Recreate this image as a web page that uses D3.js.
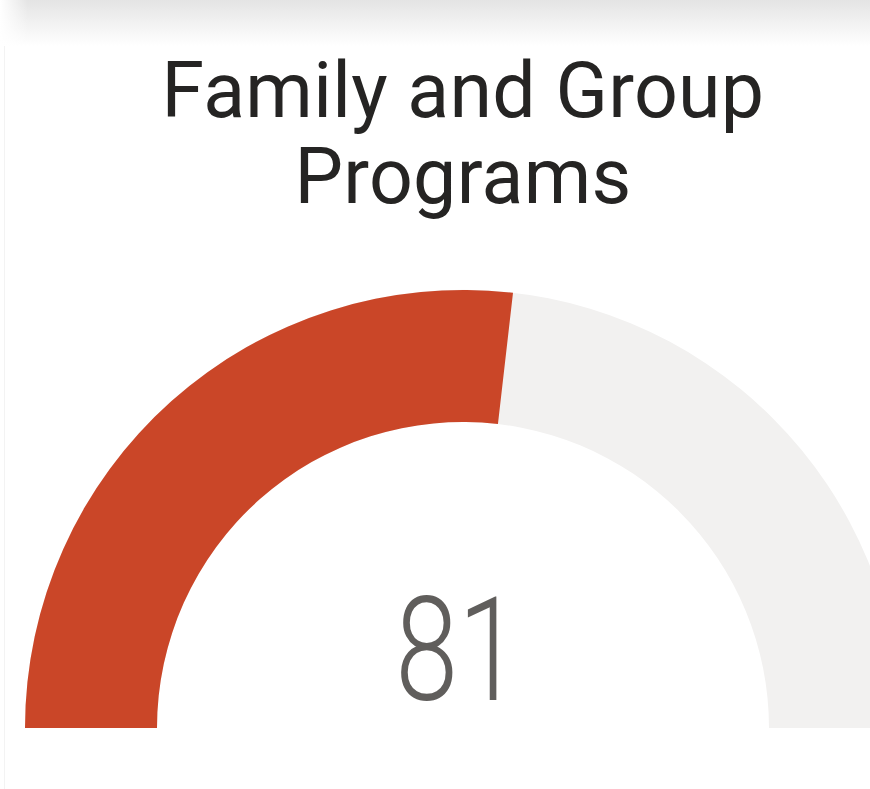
<!DOCTYPE html>
<html>
<head>
<meta charset="utf-8">
<script src="https://cdn.jsdelivr.net/npm/d3@7"></script>
<style>
  html, body { margin: 0; padding: 0; background: #fff; }
  svg { display: block; }
</style>
</head>
<body>
<svg id="chart" width="870" height="789"></svg>
<script>
'use strict';

// gauge data
const titleLines = ['Family and Group', 'Programs'];
const gaugeValue = [81];
const gaugeRange = [0, 151];

const width = 870;
const height = 789;
const $svg = d3.select('#chart');

// card shadow at the top
const defs = $svg.append('defs');
const grad = defs.append('linearGradient')
	.attr('id', 'shade')
	.attr('x1', 0).attr('y1', 0).attr('x2', 0).attr('y2', 1);
grad.append('stop').attr('offset', '0%').attr('stop-color', '#e4e4e4');
grad.append('stop').attr('offset', '100%').attr('stop-color', '#ffffff');

const gradL = defs.append('linearGradient')
	.attr('id', 'shadeL')
	.attr('x1', 0).attr('y1', 0).attr('x2', 1).attr('y2', 0);
gradL.append('stop').attr('offset', '0%').attr('stop-color', '#ffffff').attr('stop-opacity', 1);
gradL.append('stop').attr('offset', '100%').attr('stop-color', '#ffffff').attr('stop-opacity', 0);

$svg.append('rect')
	.attr('x', 0).attr('y', 0)
	.attr('width', width).attr('height', 46)
	.attr('fill', 'url(#shade)');
$svg.append('rect')
	.attr('x', 0).attr('y', 0)
	.attr('width', 28).attr('height', 46)
	.attr('fill', 'url(#shadeL)');

// faint card edge
$svg.append('line')
	.attr('x1', 4.5).attr('x2', 4.5)
	.attr('y1', 46).attr('y2', height)
	.attr('stroke', '#f3f3f3')
	.attr('stroke-width', 1);

// title
const $title = $svg.append('text')
	.attr('text-anchor', 'middle')
	.attr('fill', '#252423')
	.attr('font-family', 'Roboto, "DejaVu Sans", sans-serif')
	.attr('font-size', 77)
	.attr('letter-spacing', 0.3);

$title.selectAll('tspan')
	.data(titleLines)
	.join('tspan')
	.attr('x', 463)
	.attr('y', (d, i) => 117 + i * 86)
	.text(d => d);

// gauge
const cx = 463;
const cy = 728;
const outerR = 438;
const innerR = 306;

const angle = d3.scaleLinear()
	.domain(gaugeRange)
	.range([-Math.PI / 2, Math.PI / 2]);

const arc = d3.arc()
	.innerRadius(innerR)
	.outerRadius(outerR);

const $g = $svg.append('g')
	.attr('transform', 'translate(' + cx + ',' + cy + ')');

$g.append('path')
	.attr('d', arc({startAngle: angle(gaugeRange[0]), endAngle: angle(gaugeRange[1])}))
	.attr('fill', '#f2f1f0');

$g.append('path')
	.attr('d', arc({startAngle: angle(gaugeRange[0]), endAngle: angle(gaugeValue[0])}))
	.attr('fill', '#ca4628');

// value label, squeezed to match the narrow digits
$g.append('text')
	.text(gaugeValue[0])
	.attr('text-anchor', 'middle')
	.attr('transform', 'translate(-5,' + (700 - cy) + ') scale(0.78,1)')
	.attr('fill', '#605e5c')
	.attr('font-family', 'Roboto, "DejaVu Sans", sans-serif')
	.attr('font-weight', 300)
	.attr('font-size', 145);
</script>
</body>
</html>
